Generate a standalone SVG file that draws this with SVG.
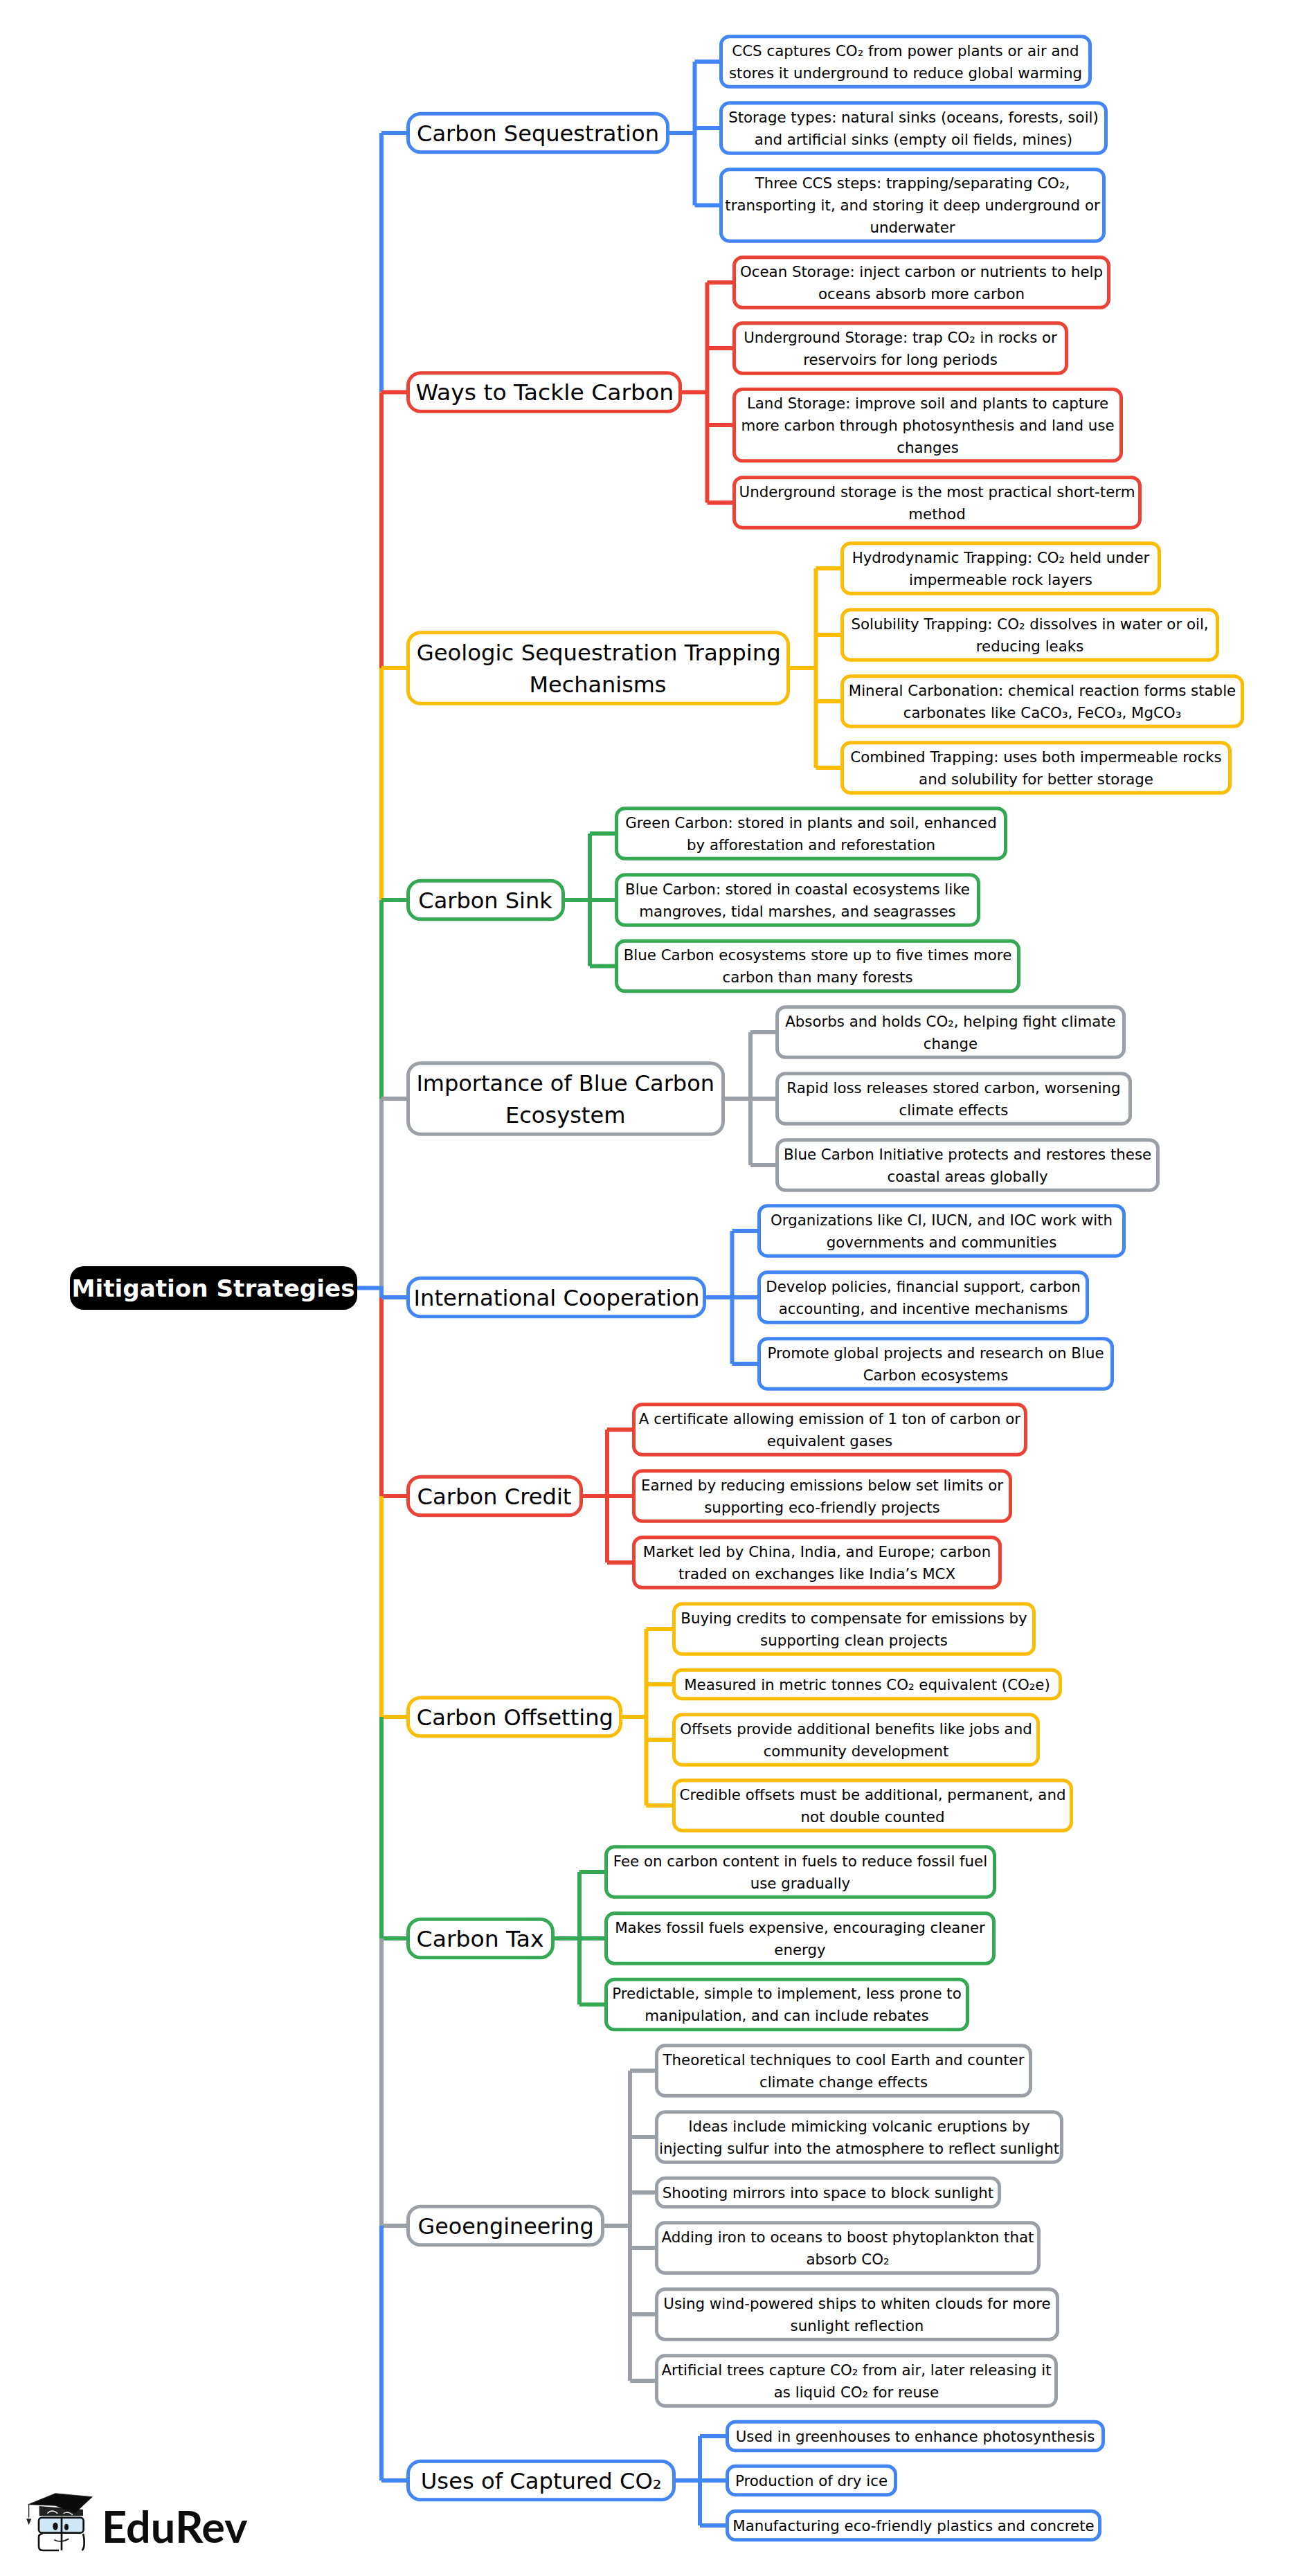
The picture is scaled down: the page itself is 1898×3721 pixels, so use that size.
<svg xmlns="http://www.w3.org/2000/svg" width="1898" height="3721" viewBox="0 0 1898 3721">
<style>
text{font-family:"DejaVu Sans",sans-serif;text-anchor:middle;fill:#000}
.t{font-size:21.33px}
.n{font-size:32.3px}
.root{font-size:34px;font-weight:700;fill:#fff}
rect{fill:#fff;stroke-width:5}
path{fill:none;stroke-width:6}
.b{stroke:#4285F4}.r{stroke:#EA4335}.y{stroke:#FBBC04}.g{stroke:#34A853}.k{stroke:#9AA0A6}
</style>
<rect width="1898" height="3721" style="fill:#fff;stroke:none"/>
<g id="connectors">
<path class="b" d="M551 192V566M551 192H589M966 192H1003.5M1003.5 89V296.5M1003.5 89H1041M1003.5 185H1041M1003.5 296.5H1041"/>
<path class="r" d="M551 566.5V965M551 566.5H589M984 566.5H1021.5M1021.5 408V726M1021.5 408H1060M1021.5 503H1060M1021.5 614H1060M1021.5 726H1060"/>
<path class="y" d="M551 965V1300M551 965H590M1140 965H1178.5M1178.5 821V1109M1178.5 821H1216M1178.5 917H1216M1178.5 1013H1216M1178.5 1109H1216"/>
<path class="g" d="M551 1300V1587M551 1300H590M815 1300H852M852 1204V1395.5M852 1204H890M852 1300H890M852 1395.5H890"/>
<path class="k" d="M551 1587V1860M551 1587H590M1046 1587H1084M1084 1491V1683M1084 1491H1122M1084 1587H1122M1084 1683H1122"/>
<path class="r" d="M551 1874V2161M551 2161H590M841 2161H877M877 2065V2257M877 2065H915M877 2161H915M877 2257H915"/>
<path class="y" d="M551 2161V2480M551 2480H590M898 2480H933.5M933.5 2353V2608M933.5 2353H973M933.5 2433H973M933.5 2513H973M933.5 2608H973"/>
<path class="g" d="M551 2480V2800M551 2800H590M800 2800H837M837 2704V2895.5M837 2704H875M837 2800H875M837 2895.5H875"/>
<path class="k" d="M551 2800V3215M551 3215H590M872 3215H910M910 2991V3439M910 2991H948M910 3087H948M910 3167H948M910 3247H948M910 3343H948M910 3439H948"/>
<path class="b" d="M551 3215V3583M551 3583H590M975 3583H1011M1011 3519V3648M1011 3519H1050M1011 3583H1050M1011 3648H1050"/>
<path class="b" d="M516 1860.5H551V1874M551 1874H590M1019 1874H1057.5M1057.5 1778V1970M1057.5 1778H1096M1057.5 1874H1096M1057.5 1970H1096"/>
</g>
<g id="root"><rect x="101" y="1829" width="415" height="63" rx="20" style="fill:#000;stroke:none"/><text class="root" x="308" y="1873" textLength="409" lengthAdjust="spacingAndGlyphs">Mitigation Strategies</text></g>

<g id="n1"><rect class="b" x="589.5" y="164.3" width="375" height="55.4" rx="18"/><text class="n" x="777" y="204" textLength="350" lengthAdjust="spacingAndGlyphs">Carbon Sequestration</text></g>
<g id="n1a"><rect class="b" x="1041.5" y="52.8" width="533" height="72.4" rx="12"/><text class="t" x="1308" y="80.6">CCS captures CO₂ from power plants or air and</text><text class="t" x="1308" y="112.6">stores it underground to reduce global warming</text></g>
<g id="n1b"><rect class="b" x="1041.5" y="148.8" width="556" height="72.4" rx="12"/><text class="t" x="1319.5" y="176.6">Storage types: natural sinks (oceans, forests, soil)</text><text class="t" x="1319.5" y="208.6">and artificial sinks (empty oil fields, mines)</text></g>
<g id="n1c"><rect class="b" x="1041.5" y="244.8" width="553" height="103.4" rx="12"/><text class="t" x="1318" y="272">Three CCS steps: trapping/separating CO₂,</text><text class="t" x="1318" y="304">transporting it, and storing it deep underground or</text><text class="t" x="1318" y="336">underwater</text></g>

<g id="n2"><rect class="r" x="589.5" y="538.8" width="393" height="55.4" rx="18"/><text class="n" x="786.8" y="578" textLength="372.6" lengthAdjust="spacingAndGlyphs">Ways to Tackle Carbon</text></g>
<g id="n2a"><rect class="r" x="1060.5" y="371.8" width="541" height="72.4" rx="12"/><text class="t" x="1331" y="399.6">Ocean Storage: inject carbon or nutrients to help</text><text class="t" x="1331" y="431.6">oceans absorb more carbon</text></g>
<g id="n2b"><rect class="r" x="1060.5" y="466.8" width="480" height="72.4" rx="12"/><text class="t" x="1300.5" y="494.6">Underground Storage: trap CO₂ in rocks or</text><text class="t" x="1300.5" y="526.6">reservoirs for long periods</text></g>
<g id="n2c"><rect class="r" x="1060.5" y="562.3" width="559" height="103.4" rx="12"/><text class="t" x="1340" y="589.6">Land Storage: improve soil and plants to capture</text><text class="t" x="1340" y="621.6">more carbon through photosynthesis and land use</text><text class="t" x="1340" y="653.6">changes</text></g>
<g id="n2d"><rect class="r" x="1060.5" y="689.8" width="586" height="72.4" rx="12"/><text class="t" x="1353.5" y="717.6">Underground storage is the most practical short-term</text><text class="t" x="1353.5" y="749.6">method</text></g>

<g id="n3"><rect class="y" x="589.5" y="913.8" width="549" height="102.4" rx="18"/><text class="n" x="864.7" y="953.5" textLength="526" lengthAdjust="spacingAndGlyphs">Geologic Sequestration Trapping</text><text class="n" x="863.5" y="1000" textLength="198" lengthAdjust="spacingAndGlyphs">Mechanisms</text></g>
<g id="n3a"><rect class="y" x="1216.5" y="784.8" width="458" height="72.4" rx="12"/><text class="t" x="1445.5" y="812.6">Hydrodynamic Trapping: CO₂ held under</text><text class="t" x="1445.5" y="844.6">impermeable rock layers</text></g>
<g id="n3b"><rect class="y" x="1216.5" y="880.8" width="542" height="72.4" rx="12"/><text class="t" x="1487.5" y="908.6">Solubility Trapping: CO₂ dissolves in water or oil,</text><text class="t" x="1487.5" y="940.6">reducing leaks</text></g>
<g id="n3c"><rect class="y" x="1216.5" y="976.8" width="578" height="72.4" rx="12"/><text class="t" x="1505.5" y="1004.6">Mineral Carbonation: chemical reaction forms stable</text><text class="t" x="1505.5" y="1036.6">carbonates like CaCO₃, FeCO₃, MgCO₃</text></g>
<g id="n3d"><rect class="y" x="1216.5" y="1072.8" width="560" height="72.4" rx="12"/><text class="t" x="1496.5" y="1100.6">Combined Trapping: uses both impermeable rocks</text><text class="t" x="1496.5" y="1132.6">and solubility for better storage</text></g>

<g id="n4"><rect class="g" x="589.5" y="1272.3" width="224" height="55.4" rx="18"/><text class="n" x="701" y="1312" textLength="193.4" lengthAdjust="spacingAndGlyphs">Carbon Sink</text></g>
<g id="n4a"><rect class="g" x="890.5" y="1167.8" width="562" height="72.4" rx="12"/><text class="t" x="1171.5" y="1195.6">Green Carbon: stored in plants and soil, enhanced</text><text class="t" x="1171.5" y="1227.6">by afforestation and reforestation</text></g>
<g id="n4b"><rect class="g" x="890.5" y="1263.8" width="523" height="72.4" rx="12"/><text class="t" x="1152" y="1291.6">Blue Carbon: stored in coastal ecosystems like</text><text class="t" x="1152" y="1323.6">mangroves, tidal marshes, and seagrasses</text></g>
<g id="n4c"><rect class="g" x="890.5" y="1359.3" width="581" height="72.4" rx="12"/><text class="t" x="1181" y="1387.1">Blue Carbon ecosystems store up to five times more</text><text class="t" x="1181" y="1419.1">carbon than many forests</text></g>

<g id="n5"><rect class="k" x="589.5" y="1535.8" width="455" height="102.4" rx="18"/><text class="n" x="816.7" y="1575.5" textLength="430.6" lengthAdjust="spacingAndGlyphs">Importance of Blue Carbon</text><text class="n" x="816.7" y="1622" textLength="173.5" lengthAdjust="spacingAndGlyphs">Ecosystem</text></g>
<g id="n5a"><rect class="k" x="1122.5" y="1454.8" width="501" height="72.4" rx="12"/><text class="t" x="1373" y="1482.6">Absorbs and holds CO₂, helping fight climate</text><text class="t" x="1373" y="1514.6">change</text></g>
<g id="n5b"><rect class="k" x="1122.5" y="1550.8" width="510" height="72.4" rx="12"/><text class="t" x="1377.5" y="1578.6">Rapid loss releases stored carbon, worsening</text><text class="t" x="1377.5" y="1610.6">climate effects</text></g>
<g id="n5c"><rect class="k" x="1122.5" y="1646.8" width="550" height="72.4" rx="12"/><text class="t" x="1397.5" y="1674.6">Blue Carbon Initiative protects and restores these</text><text class="t" x="1397.5" y="1706.6">coastal areas globally</text></g>

<g id="n6"><rect class="b" x="589.5" y="1846.3" width="428" height="55.4" rx="18"/><text class="n" x="804" y="1886" textLength="413" lengthAdjust="spacingAndGlyphs">International Cooperation</text></g>
<g id="n6a"><rect class="b" x="1096.5" y="1741.8" width="527" height="72.4" rx="12"/><text class="t" x="1360" y="1769.6">Organizations like CI, IUCN, and IOC work with</text><text class="t" x="1360" y="1801.6">governments and communities</text></g>
<g id="n6b"><rect class="b" x="1096.5" y="1837.8" width="474" height="72.4" rx="12"/><text class="t" x="1333.5" y="1865.6">Develop policies, financial support, carbon</text><text class="t" x="1333.5" y="1897.6">accounting, and incentive mechanisms</text></g>
<g id="n6c"><rect class="b" x="1096.5" y="1933.8" width="510" height="72.4" rx="12"/><text class="t" x="1351.5" y="1961.6">Promote global projects and research on Blue</text><text class="t" x="1351.5" y="1993.6">Carbon ecosystems</text></g>

<g id="n7"><rect class="r" x="589.5" y="2133.3" width="250" height="55.4" rx="18"/><text class="n" x="714" y="2173" textLength="223" lengthAdjust="spacingAndGlyphs">Carbon Credit</text></g>
<g id="n7a"><rect class="r" x="915.5" y="2028.8" width="566" height="72.4" rx="12"/><text class="t" x="1198.5" y="2056.6">A certificate allowing emission of 1 ton of carbon or</text><text class="t" x="1198.5" y="2088.6">equivalent gases</text></g>
<g id="n7b"><rect class="r" x="915.5" y="2124.8" width="544" height="72.4" rx="12"/><text class="t" x="1187.5" y="2152.6">Earned by reducing emissions below set limits or</text><text class="t" x="1187.5" y="2184.6">supporting eco-friendly projects</text></g>
<g id="n7c"><rect class="r" x="915.5" y="2220.8" width="529" height="72.4" rx="12"/><text class="t" x="1180" y="2248.6">Market led by China, India, and Europe; carbon</text><text class="t" x="1180" y="2280.6">traded on exchanges like India’s MCX</text></g>

<g id="n8"><rect class="y" x="589.5" y="2452.3" width="307" height="55.4" rx="18"/><text class="n" x="743.8" y="2492" textLength="284" lengthAdjust="spacingAndGlyphs">Carbon Offsetting</text></g>
<g id="n8a"><rect class="y" x="973.5" y="2316.8" width="520" height="72.4" rx="12"/><text class="t" x="1233.5" y="2344.6">Buying credits to compensate for emissions by</text><text class="t" x="1233.5" y="2376.6">supporting clean projects</text></g>
<g id="n8b"><rect class="y" x="973.5" y="2412.3" width="558" height="41.4" rx="12"/><text class="t" x="1252.5" y="2440.6">Measured in metric tonnes CO₂ equivalent (CO₂e)</text></g>
<g id="n8c"><rect class="y" x="973.5" y="2476.8" width="526" height="72.4" rx="12"/><text class="t" x="1236.5" y="2504.6">Offsets provide additional benefits like jobs and</text><text class="t" x="1236.5" y="2536.6">community development</text></g>
<g id="n8d"><rect class="y" x="973.5" y="2571.8" width="574" height="72.4" rx="12"/><text class="t" x="1260.5" y="2599.6">Credible offsets must be additional, permanent, and</text><text class="t" x="1260.5" y="2631.6">not double counted</text></g>

<g id="n9"><rect class="g" x="589.5" y="2772.3" width="209" height="55.4" rx="18"/><text class="n" x="693.6" y="2812" textLength="184" lengthAdjust="spacingAndGlyphs">Carbon Tax</text></g>
<g id="n9a"><rect class="g" x="875.5" y="2667.8" width="561" height="72.4" rx="12"/><text class="t" x="1156" y="2695.6">Fee on carbon content in fuels to reduce fossil fuel</text><text class="t" x="1156" y="2727.6">use gradually</text></g>
<g id="n9b"><rect class="g" x="875.5" y="2763.8" width="560" height="72.4" rx="12"/><text class="t" x="1155.5" y="2791.6">Makes fossil fuels expensive, encouraging cleaner</text><text class="t" x="1155.5" y="2823.6">energy</text></g>
<g id="n9c"><rect class="g" x="875.5" y="2859.3" width="522" height="72.4" rx="12"/><text class="t" x="1136.5" y="2887.1">Predictable, simple to implement, less prone to</text><text class="t" x="1136.5" y="2919.1">manipulation, and can include rebates</text></g>

<g id="n10"><rect class="k" x="589.5" y="3187.3" width="281" height="55.4" rx="18"/><text class="n" x="730.6" y="3227" textLength="254" lengthAdjust="spacingAndGlyphs">Geoengineering</text></g>
<g id="n10a"><rect class="k" x="948.5" y="2954.8" width="540" height="72.4" rx="12"/><text class="t" x="1218.5" y="2982.6">Theoretical techniques to cool Earth and counter</text><text class="t" x="1218.5" y="3014.6">climate change effects</text></g>
<g id="n10b"><rect class="k" x="948.5" y="3050.8" width="585" height="72.4" rx="12"/><text class="t" x="1241" y="3078.6">Ideas include mimicking volcanic eruptions by</text><text class="t" x="1241" y="3110.6">injecting sulfur into the atmosphere to reflect sunlight</text></g>
<g id="n10c"><rect class="k" x="948.5" y="3146.3" width="495" height="41.4" rx="12"/><text class="t" x="1196" y="3174.6">Shooting mirrors into space to block sunlight</text></g>
<g id="n10d"><rect class="k" x="948.5" y="3210.8" width="552" height="72.4" rx="12"/><text class="t" x="1224.5" y="3238.6">Adding iron to oceans to boost phytoplankton that</text><text class="t" x="1224.5" y="3270.6">absorb CO₂</text></g>
<g id="n10e"><rect class="k" x="948.5" y="3306.8" width="579" height="72.4" rx="12"/><text class="t" x="1238" y="3334.6">Using wind-powered ships to whiten clouds for more</text><text class="t" x="1238" y="3366.6">sunlight reflection</text></g>
<g id="n10f"><rect class="k" x="948.5" y="3402.8" width="577" height="72.4" rx="12"/><text class="t" x="1237" y="3430.6">Artificial trees capture CO₂ from air, later releasing it</text><text class="t" x="1237" y="3462.6">as liquid CO₂ for reuse</text></g>

<g id="n11"><rect class="b" x="589.5" y="3555.3" width="384" height="55.4" rx="18"/><text class="n" x="781.8" y="3595" textLength="348" lengthAdjust="spacingAndGlyphs">Uses of Captured CO₂</text></g>
<g id="n11a"><rect class="b" x="1050.5" y="3498.3" width="543" height="41.4" rx="12"/><text class="t" x="1322" y="3526.6">Used in greenhouses to enhance photosynthesis</text></g>
<g id="n11b"><rect class="b" x="1050.5" y="3562.3" width="243" height="41.4" rx="12"/><text class="t" x="1172" y="3590.6">Production of dry ice</text></g>
<g id="n11c"><rect class="b" x="1050.5" y="3627.3" width="538" height="41.4" rx="12"/><text class="t" x="1319.5" y="3655.6">Manufacturing eco-friendly plastics and concrete</text></g>

<g id="logo">
<g transform="translate(20 3570) scale(.3333)">
<path d="M110 150V192H300V165Z" style="fill:#222;stroke:none"/>
<path d="M62 143L180 95L340 110L265 180L180 148Z" style="fill:#0b0b0b;stroke:#0b0b0b;stroke-width:2"/>
<path d="M65 143V200" style="stroke:#222;stroke-width:4"/>
<path d="M54 205H76L65 232Z" style="fill:#222;stroke:none"/>
<path d="M145 182Q165 160 190 182M215 182Q235 170 255 188" style="stroke:#fff;stroke-width:4"/>
<rect x="108" y="200" width="194" height="66" rx="14" style="fill:#cfe8f8;stroke:#111;stroke-width:8"/>
<path d="M207 195V342" style="stroke:#111;stroke-width:8"/>
<path d="M195 342H125Q108 342 108 325V285Q108 270 125 270M300 270Q305 285 305 310Q305 335 295 342" style="stroke:#111;stroke-width:8"/>
<path d="M175 296Q205 312 238 292" style="stroke:#111;stroke-width:5"/>
<ellipse cx="180" cy="238" rx="11" ry="17" fill="#111"/><ellipse cx="228" cy="241" rx="9" ry="14" fill="#111"/>
</g>
<text x="147" y="3673" style="font-family:Lato,sans-serif;font-weight:700;font-size:63px;text-anchor:start;fill:#0c0c0c">EduRev</text>
</g>
</svg>
